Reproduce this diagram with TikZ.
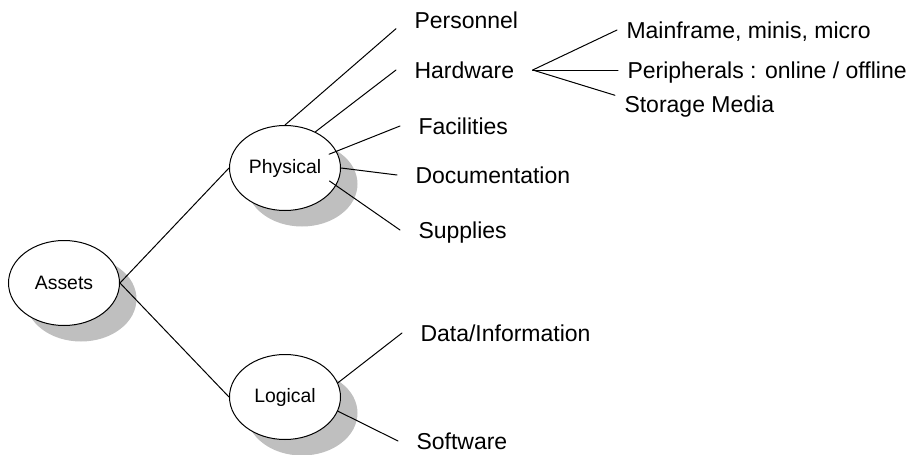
\documentclass[tikz,border=0pt]{standalone}
\usepackage{fontspec}
\setmainfont{Liberation Sans}
\usetikzlibrary{shapes.geometric,shadows}

\begin{document}
\begin{tikzpicture}[
			x=0.5pt, y=-0.5pt,
			line cap=round,
			line width=0.5pt,
			font=\fontsize{11.5}{13}\selectfont,
			bubble/.style={ellipse, draw, fill=white, inner sep=0pt,
				minimum width=55.5pt, minimum height=42.5pt,
				font=\fontsize{9.7}{11}\selectfont,
				general shadow={fill=black!25, shadow xshift=8.5pt, shadow yshift=-8pt}},
			item/.style={anchor=west, inner xsep=9pt, inner ysep=0pt,
				text height=8.2pt, text depth=0pt},
			subitem/.style={item, inner xsep=4.5pt},
			into/.style={shorten <=-4pt},
		]
			\useasboundingbox (0, 0) rectangle (912, 455);

			\node[bubble] (assets) at (64, 283) {Assets};
			\node[bubble] (phys) at (285, 168) {Physical};
			\node[bubble] (logi) at (285, 397) {Logical};

			\node[item] (pers) at (396, 20) {Personnel};
			\node[item] (hard) at (396, 70) {Hardware};
			\node[item] (faci) at (400, 126) {Facilities};
			\node[item] (docu) at (397, 175) {Documentation};
			\node[item] (supp) at (400, 230) {Supplies};
			\node[item] (data) at (402, 333) {Data/Information};
			\node[item] (soft) at (398, 441) {Software};

			\node[subitem] (main) at (617, 30) {Mainframe, minis, micro};
			\node[subitem] (peri) at (618, 70) {Peripherals : online / offline};
			\node[subitem] (stor) at (615, 104) {Storage Media};

			\draw (assets.east) -- (phys.west);
			\draw (assets.east) -- (logi.west);

			\draw (phys.90) -- (pers.south west);
			\draw (phys.50) -- (hard.west);
			\draw[into] (phys.18) -- (faci.west);
			\draw (phys.east) -- (docu.west);
			\draw[into] (phys.-19) -- (supp.west);

			\draw (hard.east) -- (main.west);
			\draw (hard.east) -- (peri.west);
			\draw (hard.east) -- (stor.north west);

			\draw (logi.15) -- (data.west);
			\draw (logi.-15) -- (soft.west);
		\end{tikzpicture}
\end{document}
